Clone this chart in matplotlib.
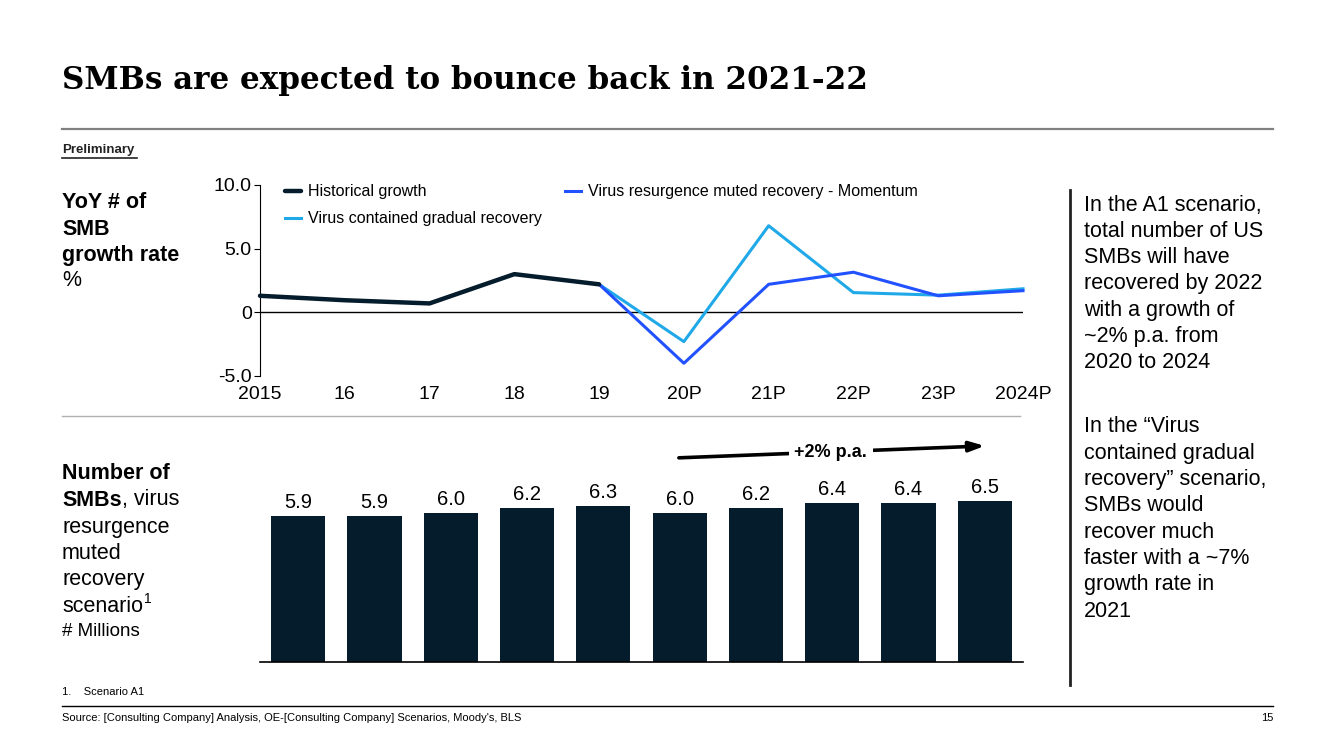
import matplotlib
matplotlib.use("Agg")
import matplotlib.pyplot as plt
from matplotlib.lines import Line2D

plt.rcParams['font.family'] = ['Liberation Sans', 'DejaVu Sans']

# data
years = ["2015", "16", "17", "18", "19", "20P", "21P", "22P", "23P", "2024P"]
hist_idx = [0, 1, 2, 3, 4]
hist_growth = [1.3, 0.95, 0.7, 3.0, 2.2]
proj_idx = [4, 5, 6, 7, 8, 9]
contained_growth = [2.2, -2.3, 6.8, 1.55, 1.35, 1.85]
resurgence_growth = [2.2, -4.0, 2.2, 3.15, 1.3, 1.7]
smb_millions = [5.9, 5.9, 6.0, 6.2, 6.3, 6.0, 6.2, 6.4, 6.4, 6.5]

NAVY = "#051C2C"
BLUE = "#2251FF"
CYAN = "#1FA9E8"
W, H = 1333, 750


def fx(px):
    return px / W


def fy(py):
    return 1 - py / H


fig = plt.figure(figsize=(W / 100, H / 100), dpi=100)

# title block
fig.text(fx(62), fy(81), "SMBs are expected to bounce back in 2021-22", family="DejaVu Serif",
         weight="bold", fontsize=22.3, va="center", ha="left", color="black")
fig.add_artist(Line2D([fx(62), fx(1273)], [fy(129), fy(129)], color="#808080", lw=1.6))
fig.text(fx(62), fy(150), "Preliminary", weight="bold", fontsize=9.5, va="center", color="#222222")
fig.add_artist(Line2D([fx(62), fx(137)], [fy(158), fy(158)], color="#222222", lw=1.2))

# line chart
ax1 = fig.add_axes([fx(260), fy(376), fx(763), (376 - 185) / H])
ax1.plot(proj_idx, contained_growth, color=CYAN, lw=2.2, label="Virus contained gradual recovery",
         clip_on=False, zorder=3)
ax1.plot(proj_idx, resurgence_growth, color=BLUE, lw=2.2, label="Virus resurgence muted recovery - Momentum",
         clip_on=False, zorder=4)
ax1.plot(hist_idx, hist_growth, color=NAVY, lw=3.2, label="Historical growth", clip_on=False, zorder=5,
         solid_capstyle="round")
ax1.axhline(0, color="black", lw=1, zorder=2)
ax1.set_xlim(0, 9)
ax1.set_ylim(-5, 10)
ax1.set_yticks([-5, 0, 5, 10])
ax1.set_yticklabels(["-5.0", "0", "5.0", "10.0"])
ax1.set_xticks(range(len(years)))
ax1.set_xticklabels(years)
ax1.tick_params(axis="x", length=0, pad=7, labelsize=14)
ax1.tick_params(axis="y", length=4, width=0.8, pad=2, labelsize=14)
for s in ["top", "right", "bottom"]:
    ax1.spines[s].set_visible(False)
ax1.spines["left"].set_linewidth(0.8)

handles, labels = ax1.get_legend_handles_labels()
order = [2, 0, 1]
ax1.legend([handles[i] for i in order], [labels[i] for i in order], ncol=2, frameon=False,
           loc="upper left", bbox_to_anchor=(0.033, 1.003), fontsize=11.5, handlelength=1.0,
           handletextpad=0.4, columnspacing=1.5, labelspacing=0.75, borderpad=0, borderaxespad=0)

fig.add_artist(Line2D([fx(62), fx(1020)], [fy(416), fy(416)], color="#b0b0b0", lw=1))

# bar chart
ax2 = fig.add_axes([fx(260), fy(662), fx(763), 223 / H])
bars = ax2.bar(range(len(years)), smb_millions, width=0.71, color=NAVY, zorder=2)
for b, v in zip(bars, smb_millions):
    ax2.annotate(f"{v:.1f}", (b.get_x() + b.get_width() / 2, v), xytext=(0, 3),
                 textcoords="offset points", ha="center", va="bottom", fontsize=14.5)
ax2.set_xlim(-0.5, 9.5)
ax2.set_ylim(0, 9)
ax2.set_xticks([])
ax2.set_yticks([])
for s in ["top", "right", "left"]:
    ax2.spines[s].set_visible(False)
ax2.spines["bottom"].set_linewidth(1.2)

ax2.annotate("", xy=(9.0, 8.72), xytext=(4.99, 8.24),
             arrowprops=dict(arrowstyle="-|>,head_length=0.9,head_width=0.3", color="black", lw=2.6,
                             shrinkA=0, shrinkB=0))
ax2.text(6.98, 8.46, "+2% p.a.", ha="center", va="center", fontsize=13, weight="bold",
         bbox=dict(facecolor="white", edgecolor="none", pad=4), zorder=5)

# left labels
for i, line in enumerate(["YoY # of", "SMB", "growth rate"]):
    fig.text(fx(62), fy(203 + 26.5 * i), line, weight="bold", fontsize=15.5, va="center")
fig.text(fx(62), fy(281), "%", fontsize=15.5, va="center")

fig.text(fx(62), fy(473), "Number of", weight="bold", fontsize=15.5, va="center")
t = fig.text(fx(62), fy(500), "SMBs", weight="bold", fontsize=15.5, va="center")
fig.canvas.draw()
bb = t.get_window_extent()
fig.text(bb.x1 / W, fy(500), ", virus", fontsize=15.5, va="center")
for i, line in enumerate(["resurgence", "muted", "recovery"]):
    fig.text(fx(62), fy(527 + 26.5 * i), line, fontsize=15.5, va="center")
t2 = fig.text(fx(62), fy(606), "scenario", fontsize=15.5, va="center")
fig.canvas.draw()
bb2 = t2.get_window_extent()
fig.text(bb2.x1 / W + 0.001, fy(599), "1", fontsize=10, va="center")
fig.text(fx(62), fy(631), "# Millions", fontsize=13.5, va="center")

# right commentary
fig.add_artist(Line2D([fx(1070), fx(1070)], [fy(190), fy(685)], color="#222222", lw=2))
block1 = ["In the A1 scenario,", "total number of US", "SMBs will have", "recovered by 2022",
          "with a growth of", "~2% p.a. from", "2020 to 2024"]
block2 = ["In the \u201cVirus", "contained gradual", "recovery\u201d scenario,", "SMBs would",
          "recover much", "faster with a ~7%", "growth rate in", "2021"]
for i, line in enumerate(block1):
    fig.text(fx(1084), fy(205 + 26.3 * i), line, fontsize=15.5, va="center")
for i, line in enumerate(block2):
    fig.text(fx(1084), fy(427 + 26.3 * i), line, fontsize=15.5, va="center")

# footer
fig.text(fx(62), fy(692), "1.    Scenario A1", fontsize=8, va="center")
fig.add_artist(Line2D([fx(62), fx(1273)], [fy(706), fy(706)], color="black", lw=1))
fig.text(fx(62), fy(718), "Source: [Consulting Company] Analysis, OE-[Consulting Company] Scenarios, Moody's, BLS",
         fontsize=8, va="center")
fig.text(fx(1273), fy(718), "15", fontsize=8, va="center", ha="right")

fig.savefig("out.png", dpi=100, facecolor="white")
